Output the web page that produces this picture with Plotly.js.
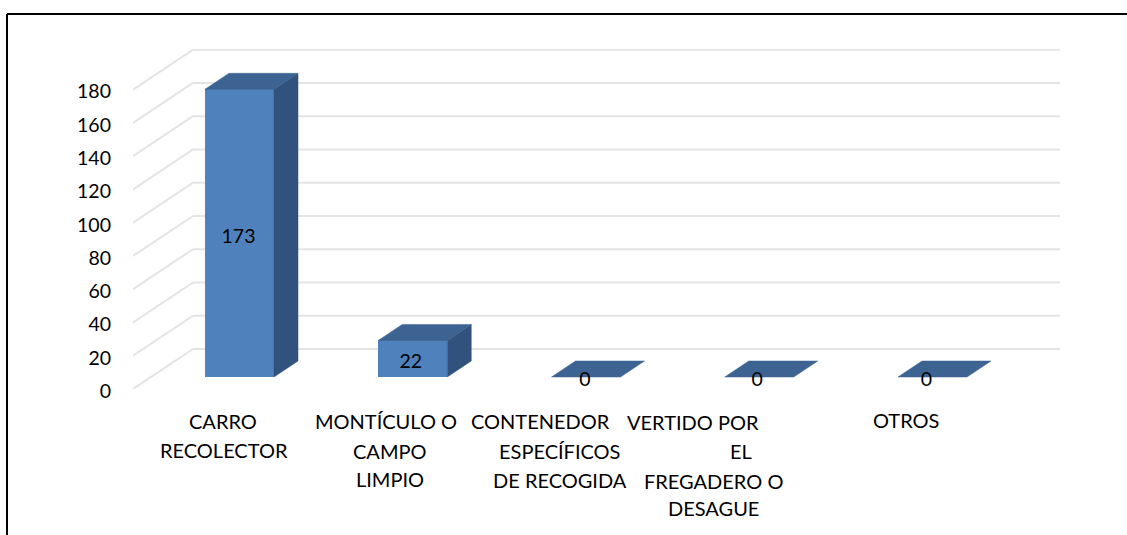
<!DOCTYPE html>
<html><head><meta charset="utf-8">
<script src="https://cdn.plot.ly/plotly-3.0.1.min.js"></script>
<style>html,body{margin:0;padding:0;background:#fff;overflow:hidden}#c{width:1127px;height:535px}</style>
</head><body><div id="c"></div>
<script>
// DATA
const categories = ["CARRO RECOLECTOR","MONTÍCULO O CAMPO LIMPIO","CONTENEDOR ESPECÍFICOS DE RECOGIDA","VERTIDO POR EL FREGADERO O DESAGUE","OTROS"];
const values = [173,22,0,0,0];
const yTicks = [0,20,40,60,80,100,120,140,160,180];
const categoryLines = [
  ["CARRO","RECOLECTOR"],
  ["MONTÍCULO O","CAMPO","LIMPIO"],
  ["CONTENEDOR","ESPECÍFICOS","DE RECOGIDA"],
  ["VERTIDO POR","EL","FREGADERO O","DESAGUE"],
  ["OTROS"]
];

// LAYOUT / STYLE
const W=1127,H=535,L=133,R=1063,T=49,B=389;
const pxPerCat=173.25, pxPerVal=1.663;
const depthX=60/pxPerCat, depthY=40/pxPerVal;
const d0=0.3,d1=0.7, barW=69/pxPerCat, center=(205+34.5-L-18)/pxPerCat;
const FONT="Lato, 'Open Sans', sans-serif", NUMFS=19.5, TXTFS=20;
const cFront="#4F81BD", cSide="#31527C", cTop="#3C6391", cGrid="#E4E4E4";
const wallWidth=867/pxPerCat;
const px=x=>(x-L)/(R-L), py=y=>1-(y-T)/(B-T);

// Label placement, pixel centre per line of each category
const labelX=[[223,224],[386,390,390],[540,559,560],[693,741,713,713],[906]];
const labelY=[422,451,480,508];
const labelYShift=[[-1,-1],[-1,0,-1],[-1,0,0],[0,0,1,0],[-2]];
const valueLabelShiftPx=[-1,-2,-1,-2,-6];

const centers=categories.map((_,i)=>i+center);
const P=(c,v,d)=>[c+d*depthX, v+d*depthY];

function face(pts,color){
  return {type:'scatter',mode:'lines',x:pts.map(p=>p[0]),y:pts.map(p=>p[1]),fill:'toself',
    fillcolor:color,line:{width:0.5,color:color},hoverinfo:'skip',showlegend:false};
}
const traces=[];
traces.push({type:'bar',x:centers.map(c=>c+d0*depthX),y:values,base:values.map(()=>d0*depthY),
  width:barW,marker:{color:cFront,line:{width:0}},hoverinfo:'skip',showlegend:false});
centers.forEach((c,i)=>{
  const v=values[i], l=c-barW/2, r=c+barW/2;
  if(v>0) traces.push(face([P(r,0,d0),P(r,0,d1),P(r,v,d1),P(r,v,d0),P(r,0,d0)],cSide));
  traces.push(face([P(l,v,d0),P(l,v,d1),P(r,v,d1),P(r,v,d0),P(l,v,d0)],cTop));
});
traces.push({type:'scatter',mode:'text',x:centers.map((c,i)=>c+d0*depthX+valueLabelShiftPx[i]/pxPerCat),
  y:values.map(v=>v/2+d0*depthY-4.5/pxPerVal),text:values.map(String),textposition:'middle center',
  textfont:{family:FONT,size:NUMFS,color:'#000'},cliponaxis:false,hoverinfo:'skip',showlegend:false});

const shapes=[];
yTicks.forEach(t=>{
  const line={color:cGrid,width:2};
  shapes.push({type:'line',layer:'below',xref:'x',yref:'y',x0:0,y0:t,x1:depthX,y1:t+depthY,line});
  shapes.push({type:'line',layer:'below',xref:'x',yref:'y',x0:depthX,y0:t+depthY,x1:depthX+wallWidth,y1:t+depthY,line});
});
// outer frame: top and left edges
shapes.push({type:'line',xref:'paper',yref:'paper',x0:px(7),y0:py(14),x1:px(W),y1:py(14),line:{color:'#000',width:2}});
shapes.push({type:'line',xref:'paper',yref:'paper',x0:px(7),y0:py(14),x1:px(7),y1:py(H),line:{color:'#000',width:2}});

const annotations=[];
categoryLines.forEach((lines,i)=>lines.forEach((t,j)=>{
  annotations.push({xref:'paper',yref:'paper',x:px(labelX[i][j]),y:py(labelY[j]+labelYShift[i][j]),text:t,showarrow:false,
    xanchor:'center',yanchor:'middle',font:{family:FONT,size:TXTFS,color:'#000'}});
}));

Plotly.newPlot('c',traces,{
  width:W,height:H,margin:{l:L,r:W-R,t:T,b:H-B,pad:0},
  paper_bgcolor:'#fff',plot_bgcolor:'rgba(0,0,0,0)',showlegend:false,hovermode:false,
  xaxis:{range:[0,(R-L)/pxPerCat],showgrid:false,zeroline:false,showline:false,showticklabels:false,ticks:'',fixedrange:true},
  yaxis:{range:[0,(B-T)/pxPerVal],tickmode:'array',tickvals:yTicks,ticktext:yTicks.map(String),showgrid:false,zeroline:false,showline:false,
    ticks:'',ticklabelstandoff:21,ticklabelshift:2,tickfont:{family:FONT,size:NUMFS,color:'#000'},fixedrange:true},
  shapes,annotations,bargap:0
},{displayModeBar:false,staticPlot:true});
</script></body></html>
